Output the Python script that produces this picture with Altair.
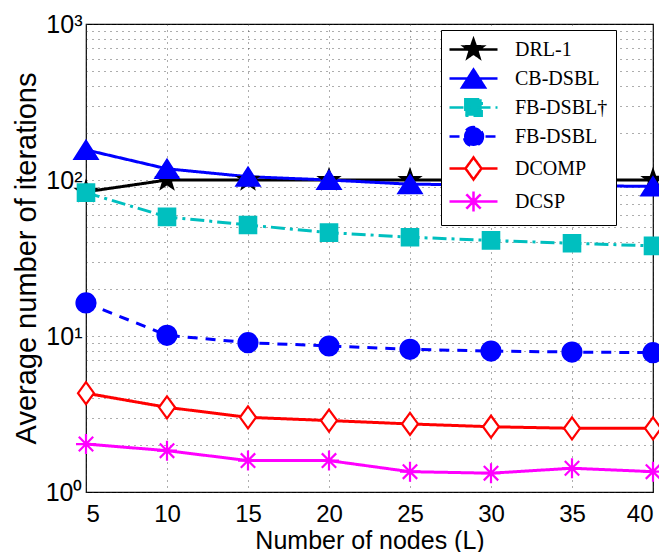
import math
import altair as alt
import pandas as pd

# ---------------- data ----------------
nodes = [5, 10, 15, 20, 25, 30, 35, 40]
series_names = ["DRL-1", "CB-DSBL", "FB-DSBL\u2020", "FB-DSBL", "DCOMP", "DCSP"]
drl1 = [84, 100, 100, 100, 100, 100, 100, 100]
cb_dsbl = [156, 118, 105, 100, 94, 93, 92, 91]
fb_dsbl_dagger = [83, 58, 51.5, 46, 43, 41, 39.3, 37.8]
fb_dsbl = [16.3, 10.1, 9.06, 8.63, 8.22, 8.01, 7.89, 7.82]
dcomp = [4.30, 3.49, 3.01, 2.87, 2.73, 2.62, 2.56, 2.56]
dcsp = [2.03, 1.84, 1.59, 1.59, 1.35, 1.32, 1.42, 1.35]
values = [drl1, cb_dsbl, fb_dsbl_dagger, fb_dsbl, dcomp, dcsp]

y_ticks = [1, 2, 3, 4, 5, 6, 7, 8, 9, 10, 20, 30, 40, 50, 60, 70, 80, 90,
           100, 200, 300, 400, 500, 600, 700, 800, 900, 1000]
x_ticks = [5, 10, 15, 20, 25, 30, 35, 40]

# ---------------- styles ----------------
colors = ["#000000", "#0000ff", "#00bfbf", "#0000ff", "#ff0000", "#ff00ff"]
fills = ["#000000", "#0000ff", "#00bfbf", "#0000ff", "#ffffff", "transparent"]
dash_kind = ["solid", "solid", "dashdot", "dashed", "solid", "solid"]
dash_arrays = {"solid": [1, 0], "dashdot": [14, 5, 3, 5], "dashed": [10, 8]}


def star_path(ro=1.0, ri=0.4):
    pts = []
    for k in range(10):
        ang = math.radians(-90 + 36 * k)
        r = ro if k % 2 == 0 else ri
        pts.append(f"{r*math.cos(ang):.3f},{r*math.sin(ang):.3f}")
    return "M" + "L".join(pts) + "Z"


marker_paths = [
    star_path(1.0, 0.4),
    "M0,-0.9L1.15,0.9L-1.15,0.9Z",
    "M-0.82,-0.82L0.82,-0.82L0.82,0.82L-0.82,0.82Z",
    "M0.95,0A0.95,0.95,0,1,1,-0.95,0A0.95,0.95,0,1,1,0.95,0Z",
    "M0,-1.1L0.8,0L0,1.1L-0.8,0Z",
    "M0,-1L0,1M-1,0L1,0M-0.72,-0.72L0.72,0.72M-0.72,0.72L0.72,-0.72",
]
legend_lines = [
    "M-2.4,0L2.4,0",
    "M-2.4,0L2.4,0",
    "M-2.4,0L2.4,0",
    "M-2.4,0L2.4,0",
    "M-2.4,0L-0.8,0M0.8,0L2.4,0",
    "M-2.4,0L2.4,0",
]
legend_paths = [l + m for l, m in zip(legend_lines, marker_paths)]

rows = []
for i, name in enumerate(series_names):
    for x, v in zip(nodes, values[i]):
        rows.append({
            "node": x, "value": v, "series": name, "idx": i,
            "color": colors[i], "fill": fills[i], "shape": marker_paths[i],
            "dash": dash_kind[i],
        })
df = pd.DataFrame(rows)
df_leg = df[df["node"] == nodes[0]].copy()

label_expr = ("datum.value == 1 ? '10\u2070' : datum.value == 10 ? '10\u00b9' : "
              "datum.value == 100 ? '10\u00b2' : datum.value == 1000 ? '10\u00b3' : ''")

x_enc = alt.X(
    "node:Q",
    scale=alt.Scale(domain=[5, 40], nice=False),
    axis=alt.Axis(values=x_ticks, title="Number of nodes (L)", labelPadding=10,
                  titlePadding=2, titleFontSize=25, labelFontSize=24),
)
y_enc = alt.Y(
    "value:Q",
    scale=alt.Scale(type="log", domain=[1, 1000], nice=False),
    axis=alt.Axis(values=y_ticks, labelExpr=label_expr,
                  title="Average number of iterations", labelPadding=4,
                  titlePadding=4, titleFontSize=29, labelFontSize=25),
)

base = alt.Chart(df)

line_layers = []
for kind, arr in dash_arrays.items():
    line_layers.append(
        base.transform_filter(alt.datum.dash == kind)
        .mark_line(strokeWidth=3, strokeDash=arr)
        .encode(x=x_enc, y=y_enc, detail="series:N",
                color=alt.Color("color:N", scale=None))
    )

points = base.mark_point(filled=True, opacity=1, size=400, strokeWidth=2.2).encode(
    x=x_enc, y=y_enc,
    shape=alt.Shape("shape:N", scale=None),
    fill=alt.Fill("fill:N", scale=None),
    stroke=alt.Stroke("color:N", scale=None),
    order=alt.Order("idx:Q"),
)

leg = alt.Legend(
    title=None, orient="none", legendX=355, legendY=6,
    strokeColor="#000000", fillColor="#ffffff", padding=8,
    labelFont="Liberation Serif", labelFontSize=20, labelColor="#000000",
    symbolSize=400, symbolStrokeWidth=2.5, symbolOpacity=1,
    symbolOffset=13, labelOffset=30, rowPadding=1, labelLimit=300,
)
legend_layer = alt.Chart(df_leg).mark_point(filled=True, opacity=0, size=400).encode(
    x=x_enc, y=y_enc,
    shape=alt.Shape("series:N", scale=alt.Scale(domain=series_names, range=legend_paths),
                    legend=leg),
    stroke=alt.Stroke("series:N", scale=alt.Scale(domain=series_names, range=colors),
                      legend=leg),
    fill=alt.Fill("series:N", scale=alt.Scale(domain=series_names, range=fills),
                  legend=leg),
    strokeDash=alt.StrokeDash("series:N",
                              scale=alt.Scale(domain=series_names,
                                              range=[dash_arrays[k] for k in dash_kind]),
                              legend=leg),
)

chart = alt.layer(*line_layers, points, legend_layer).properties(
    width=567, height=468,
    autosize=alt.AutoSizeParams(type="none"),
    padding={"left": 78, "top": 16, "right": 6, "bottom": 60},
).configure_view(
    stroke="#000000", strokeWidth=1.2
).configure_axis(
    labelFont="Liberation Sans", titleFont="Liberation Sans",
    labelColor="#000000", titleColor="#000000", titleFontWeight="normal",
    grid=True, gridColor="#333333", gridDash=[1, 5], gridWidth=1, gridOpacity=0.8,
    domain=False, ticks=False, tickSize=0,
)

chart.save("out.html", embed_options={"renderer": "svg", "actions": False})
